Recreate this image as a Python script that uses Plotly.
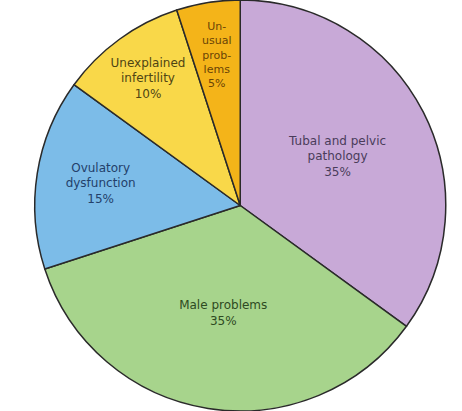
import math
import plotly.graph_objects as go

categories = ["Tubal and pelvic pathology", "Male problems", "Ovulatory dysfunction",
              "Unexplained infertility", "Unusual problems"]
values = [35, 35, 15, 10, 5]
label_text = ["Tubal and pelvic<br>pathology", "Male problems", "Ovulatory<br>dysfunction",
              "Unexplained<br>infertility", "Un-<br>usual<br>prob-<br>lems"]
colors = ["#C8A9D7", "#A7D48C", "#7CBCE8", "#F9D849", "#F4B419"]
text_colors = ["#4A3C5A", "#2E4A22", "#23406A", "#4F4414", "#6A4406"]

W, H = 462, 411
dom_x = [0.04, 1.0]
dom_y = [0.0, 1.0]

# the narrow slice gets its label as an annotation placed along its mid-angle
small_idx = 4
slice_text = [f"{t}<br>{v}%" if i != small_idx else "" for i, (t, v) in enumerate(zip(label_text, values))]

fig = go.Figure(go.Pie(
    labels=categories,
    values=values,
    text=slice_text,
    textinfo="text",
    textposition="inside",
    insidetextorientation="horizontal",
    sort=False,
    direction="clockwise",
    rotation=0,
    marker=dict(colors=colors, line=dict(color="#2A2A2A", width=1.5)),
    textfont=dict(family="DejaVu Sans", size=12, color=text_colors),
    hoverinfo="label+percent",
    domain=dict(x=dom_x, y=dom_y),
    showlegend=False,
))

# geometry of the pie in pixels (plotly draws it centred in its domain)
cx_px = (dom_x[0] + dom_x[1]) / 2 * W
cy_px = (dom_y[0] + dom_y[1]) / 2 * H
rad_px = min((dom_x[1] - dom_x[0]) * W, (dom_y[1] - dom_y[0]) * H) / 2
total = sum(values)
start = sum(values[:small_idx]) / total * 360
mid = math.radians(start + values[small_idx] / total * 360 / 2)
r_frac = 0.74
ax_px = cx_px + r_frac * rad_px * math.sin(mid)
ay_px = cy_px + r_frac * rad_px * math.cos(mid)

fig.add_annotation(
    x=ax_px / W, y=ay_px / H, xref="paper", yref="paper",
    text=f"{label_text[small_idx]}<br>{values[small_idx]}%",
    showarrow=False,
    font=dict(family="DejaVu Sans", size=11, color=text_colors[small_idx]),
    xanchor="center", yanchor="middle",
)

fig.update_layout(
    width=W, height=H,
    margin=dict(l=0, r=0, t=0, b=0),
    paper_bgcolor="white",
    plot_bgcolor="white",
)

fig.write_html("out.html")
